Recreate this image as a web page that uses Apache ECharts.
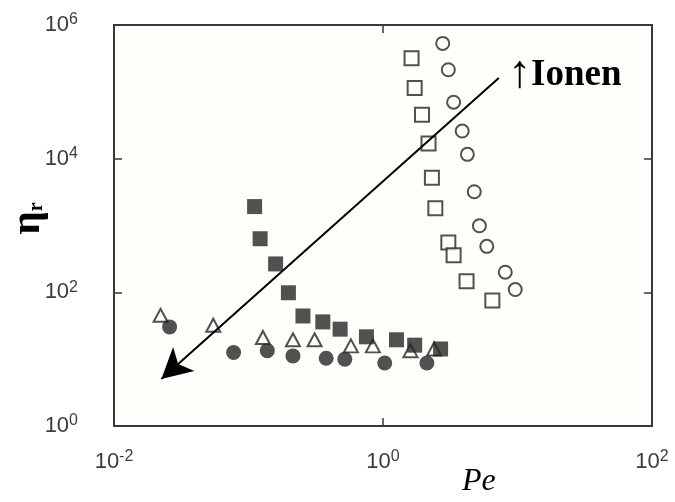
<!DOCTYPE html>
<html>
<head>
<meta charset="utf-8">
<script src="https://cdn.jsdelivr.net/npm/echarts@6/dist/echarts.min.js"></script>
<style>
html,body{margin:0;padding:0;background:#ffffff;}
#c{width:675px;height:502px;}
</style>
</head>
<body>
<div id="c"></div>
<script>
// ---- data (Pe, eta_r) ----
const openCircleX = [2.78, 3.06, 3.35, 3.88, 4.24, 4.77, 5.21, 5.91, 8.11, 9.62];
const openCircleY = [5.3e5, 2.14e5, 7.0e4, 2.59e4, 1.16e4, 3.2e3, 989, 488, 200, 110];

const openSquareX = [1.63, 1.72, 1.95, 2.18, 2.31, 2.45, 3.06, 3.35, 4.18, 6.50];
const openSquareY = [3.19e5, 1.14e5, 4.53e4, 1.68e4, 5.18e3, 1.81e3, 558, 358, 147, 75.7];

const filledSquareX = [0.111, 0.122, 0.159, 0.198, 0.254, 0.357, 0.480, 0.753, 1.26, 1.72, 2.68];
const filledSquareY = [1920, 634, 266, 98.5, 44.3, 36.1, 28.1, 21.6, 19.5, 16.2, 14.2];

const triangleX = [0.0222, 0.0547, 0.128, 0.214, 0.310, 0.577, 0.841, 1.60, 2.40];
const triangleY = [45.3, 32.2, 21.1, 19.5, 19.5, 15.8, 15.8, 13.4, 14.2];

const filledCircleX = [0.0259, 0.0775, 0.138, 0.214, 0.378, 0.520, 1.03, 2.12];
const filledCircleY = [30.4, 12.6, 13.4, 11.2, 10.3, 10.0, 8.75, 8.75];

// arrow annotation (from, to) in data coordinates
const arrowFrom = [7.26, 1.61e5];
const arrowTo = [0.0225, 5.06];

// tick exponents shown on the axes
const xTickExponents = [-2, 0, 2];
const yTickExponents = [0, 2, 4, 6];

const zip = (xs, ys) => xs.map((x, i) => [x, ys[i]]);

const chart = echarts.init(document.getElementById('c'), null, {renderer: 'canvas'});

const labelRich = {
  a: {fontSize: 22, fontFamily: 'Liberation Sans', color: '#3c3c3c'},
  b: {fontSize: 16, fontFamily: 'Liberation Sans', color: '#3c3c3c', padding: [0, 0, 10, 0]}
};
function expLabel(v) {
  const e = Math.round(Math.log10(v));
  return '{a|10}{b|' + e + '}';
}
const lineStyle = {color: '#383838', width: 2};
const tickStyle = {color: '#383838', width: 1.5};
const ink = '#262626';

chart.setOption({
  backgroundColor: '#ffffff',
  animation: false,
  grid: {left: 114, top: 25, right: 23, bottom: 76, containLabel: false, outerBoundsMode: 'none',
         show: true, backgroundColor: '#fefefa', borderWidth: 0},
  xAxis: [
    {type: 'log', logBase: 10, min: Math.pow(10, xTickExponents[0]), max: Math.pow(10, xTickExponents[xTickExponents.length - 1]),
     interval: 2, position: 'bottom',
     axisLine: {show: true, lineStyle: lineStyle},
     axisTick: {show: true, inside: true, length: 8, lineStyle: tickStyle},
     minorTick: {show: false}, splitLine: {show: false},
     axisLabel: {margin: 23, formatter: expLabel, rich: labelRich}},
    {type: 'log', logBase: 10, min: 0.01, max: 100, interval: 2, position: 'top',
     axisLine: {show: true, lineStyle: lineStyle},
     axisTick: {show: true, inside: true, length: 8, lineStyle: tickStyle},
     splitLine: {show: false}, axisLabel: {show: false}}
  ],
  yAxis: [
    {type: 'log', logBase: 10, min: Math.pow(10, yTickExponents[0]), max: Math.pow(10, yTickExponents[yTickExponents.length - 1]),
     interval: 2, position: 'left',
     axisLine: {show: true, lineStyle: lineStyle},
     axisTick: {show: true, inside: true, length: 8, lineStyle: tickStyle},
     splitLine: {show: false},
     axisLabel: {margin: 36, formatter: expLabel, rich: labelRich},
     name: '{a|η}{b|r}', nameLocation: 'middle', nameRotate: 90, nameGap: 65, nameMoveOverlap: false,
     nameTextStyle: {padding: [0, 0, 0, 14], rich: {
       a: {fontSize: 41, fontWeight: 'bold', fontFamily: 'Liberation Serif', color: '#000'},
       b: {fontSize: 20, fontWeight: 'bold', fontFamily: 'Liberation Serif', color: '#000', padding: [16, 0, 0, 0]}
     }}},
    {type: 'log', logBase: 10, min: 1, max: 1e6, interval: 2, position: 'right',
     axisLine: {show: true, lineStyle: lineStyle},
     axisTick: {show: true, inside: true, length: 8, lineStyle: tickStyle},
     splitLine: {show: false}, axisLabel: {show: false}}
  ],
  series: [
    {type: 'scatter', name: 'open circle', data: zip(openCircleX, openCircleY), symbol: 'circle', symbolSize: 13,
     itemStyle: {color: '#fefefa', borderColor: ink, borderWidth: 2}, z: 3},
    {type: 'scatter', name: 'open square', data: zip(openSquareX, openSquareY), symbol: 'rect', symbolSize: 14,
     itemStyle: {color: '#fefefa', borderColor: ink, borderWidth: 2}, z: 3},
    {type: 'scatter', name: 'triangle', data: zip(triangleX, triangleY), symbol: 'triangle', symbolSize: [14, 13],
     itemStyle: {color: '#fefefa', borderColor: ink, borderWidth: 2}, z: 3},
    {type: 'scatter', name: 'filled square', data: zip(filledSquareX, filledSquareY), symbol: 'rect', symbolSize: 15,
     itemStyle: {color: ink}, z: 4},
    {type: 'scatter', name: 'filled circle', data: zip(filledCircleX, filledCircleY), symbol: 'circle', symbolSize: 15,
     itemStyle: {color: ink}, z: 4},
    {type: 'scatter', name: 'arrow', data: [], z: 5,
     markLine: {silent: true, symbol: ['none', 'arrow'], symbolSize: [24, 30], animation: false,
       lineStyle: {color: '#000', width: 2, type: 'solid'}, label: {show: false},
       data: [[{coord: arrowFrom}, {coord: arrowTo}]]}}
  ],
  graphic: [
    {type: 'text', left: 508, top: 52, z: 10,
     style: {text: '{u|↑}{t|Ionen}', rich: {
       u: {fontSize: 46, fontFamily: 'Liberation Serif', fill: '#000'},
       t: {fontSize: 37, fontWeight: 'bold', fontFamily: 'Liberation Serif', fill: '#000'}}}},
    {type: 'text', left: 462, top: 466, z: 10,
     style: {text: 'Pe', fontSize: 32, fontStyle: 'italic', fontFamily: 'Liberation Serif', fill: '#000'}}
  ]
});
</script>
</body>
</html>
